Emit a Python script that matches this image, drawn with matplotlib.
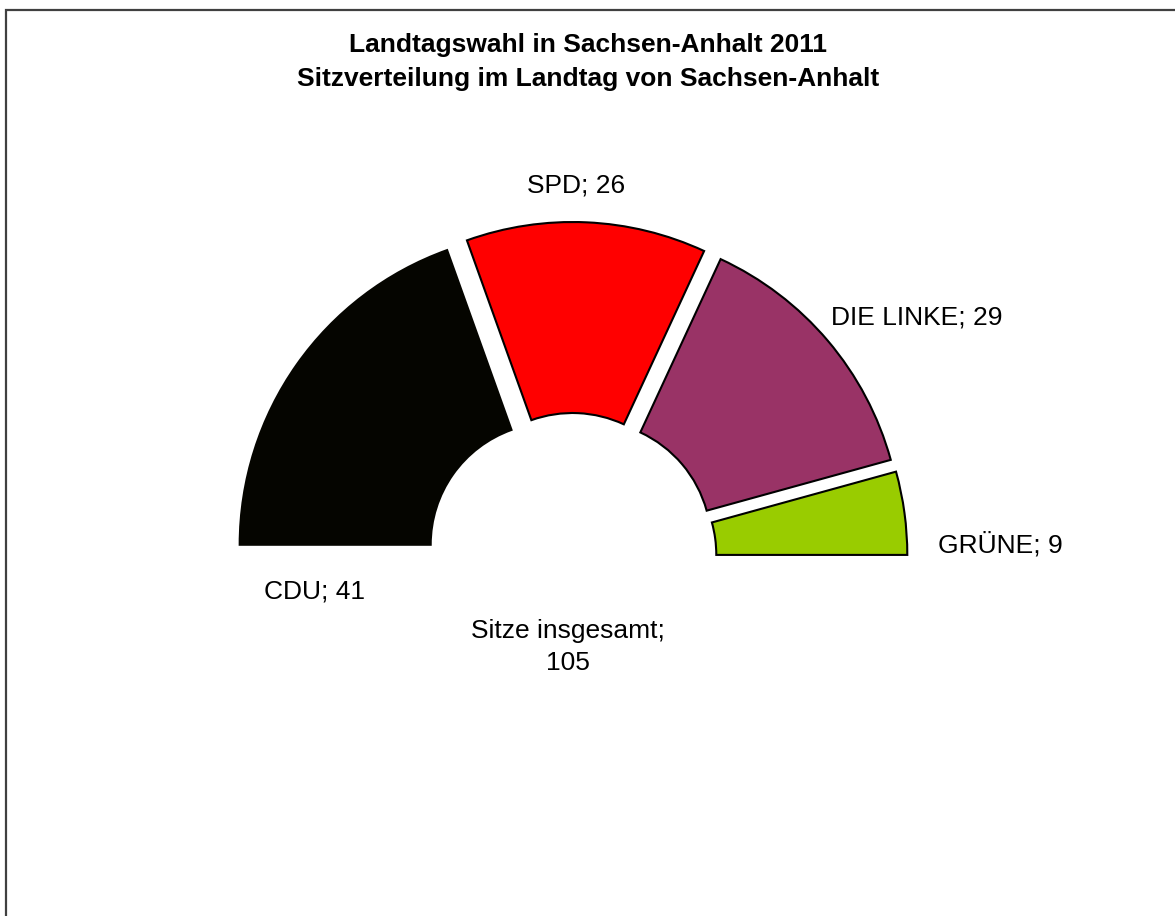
import matplotlib.pyplot as plt
from matplotlib.patches import Rectangle

plt.rcParams['font.family'] = ['Liberation Sans', 'DejaVu Sans']

# Sitzverteilung Landtag Sachsen-Anhalt 2011
parteien = ['CDU', 'SPD', 'DIE LINKE', 'GRÜNE']
sitze = [41, 26, 29, 9]
farben = ['#050500', '#ff0000', '#993366', '#99cc00']
gesamt = sum(sitze)  # 105, unsichtbare untere Hälfte

W, H = 1175, 916
fig = plt.figure(figsize=(W / 100, H / 100), dpi=100)
ax = fig.add_axes([0, 0, 1, 1])

# pixel-koordinaten, y nach oben
mitte = (571.5, H - 558)
radius = 313
ring = 191
explode_px = 23

werte = sitze + [gesamt]
wedges, _ = ax.pie(werte, colors=farben + ['white'], startangle=180, counterclock=False,
                   radius=radius, center=mitte, explode=[explode_px] * len(werte),
                   wedgeprops=dict(width=ring, edgecolor='black', linewidth=1.5))
wedges[-1].set_visible(False)
wedges[0].set_edgecolor('#050500')

ax.set_xlim(0, W)
ax.set_ylim(0, H)
ax.set_aspect('equal')
ax.axis('off')

# datenbeschriftungen
beschriftung = {
    'CDU': (315, 592),
    'SPD': (576, 185),
    'DIE LINKE': (917, 317),
    'GRÜNE': (1000, 545),
}
for p, s in zip(parteien, sitze):
    x, y = beschriftung[p]
    ax.text(x, H - y, f'{p}; {s}', ha='center', va='center', fontsize=19)
ax.text(568, H - 647, f'Sitze insgesamt;\n{gesamt}', ha='center', va='center',
        fontsize=19, linespacing=1.45)

fig.text(588 / W, 1 - 62 / H, 'Landtagswahl in Sachsen-Anhalt 2011\nSitzverteilung im Landtag von Sachsen-Anhalt',
         ha='center', va='center', fontsize=19, fontweight='bold', linespacing=1.5)

# rahmen
fig.patches.append(Rectangle((5.5 / W, -0.1), 1.2, 1.1 - 10.5 / H, transform=fig.transFigure,
                             fill=False, edgecolor='#404040', linewidth=1.6))

fig.savefig('out.png', dpi=100)
